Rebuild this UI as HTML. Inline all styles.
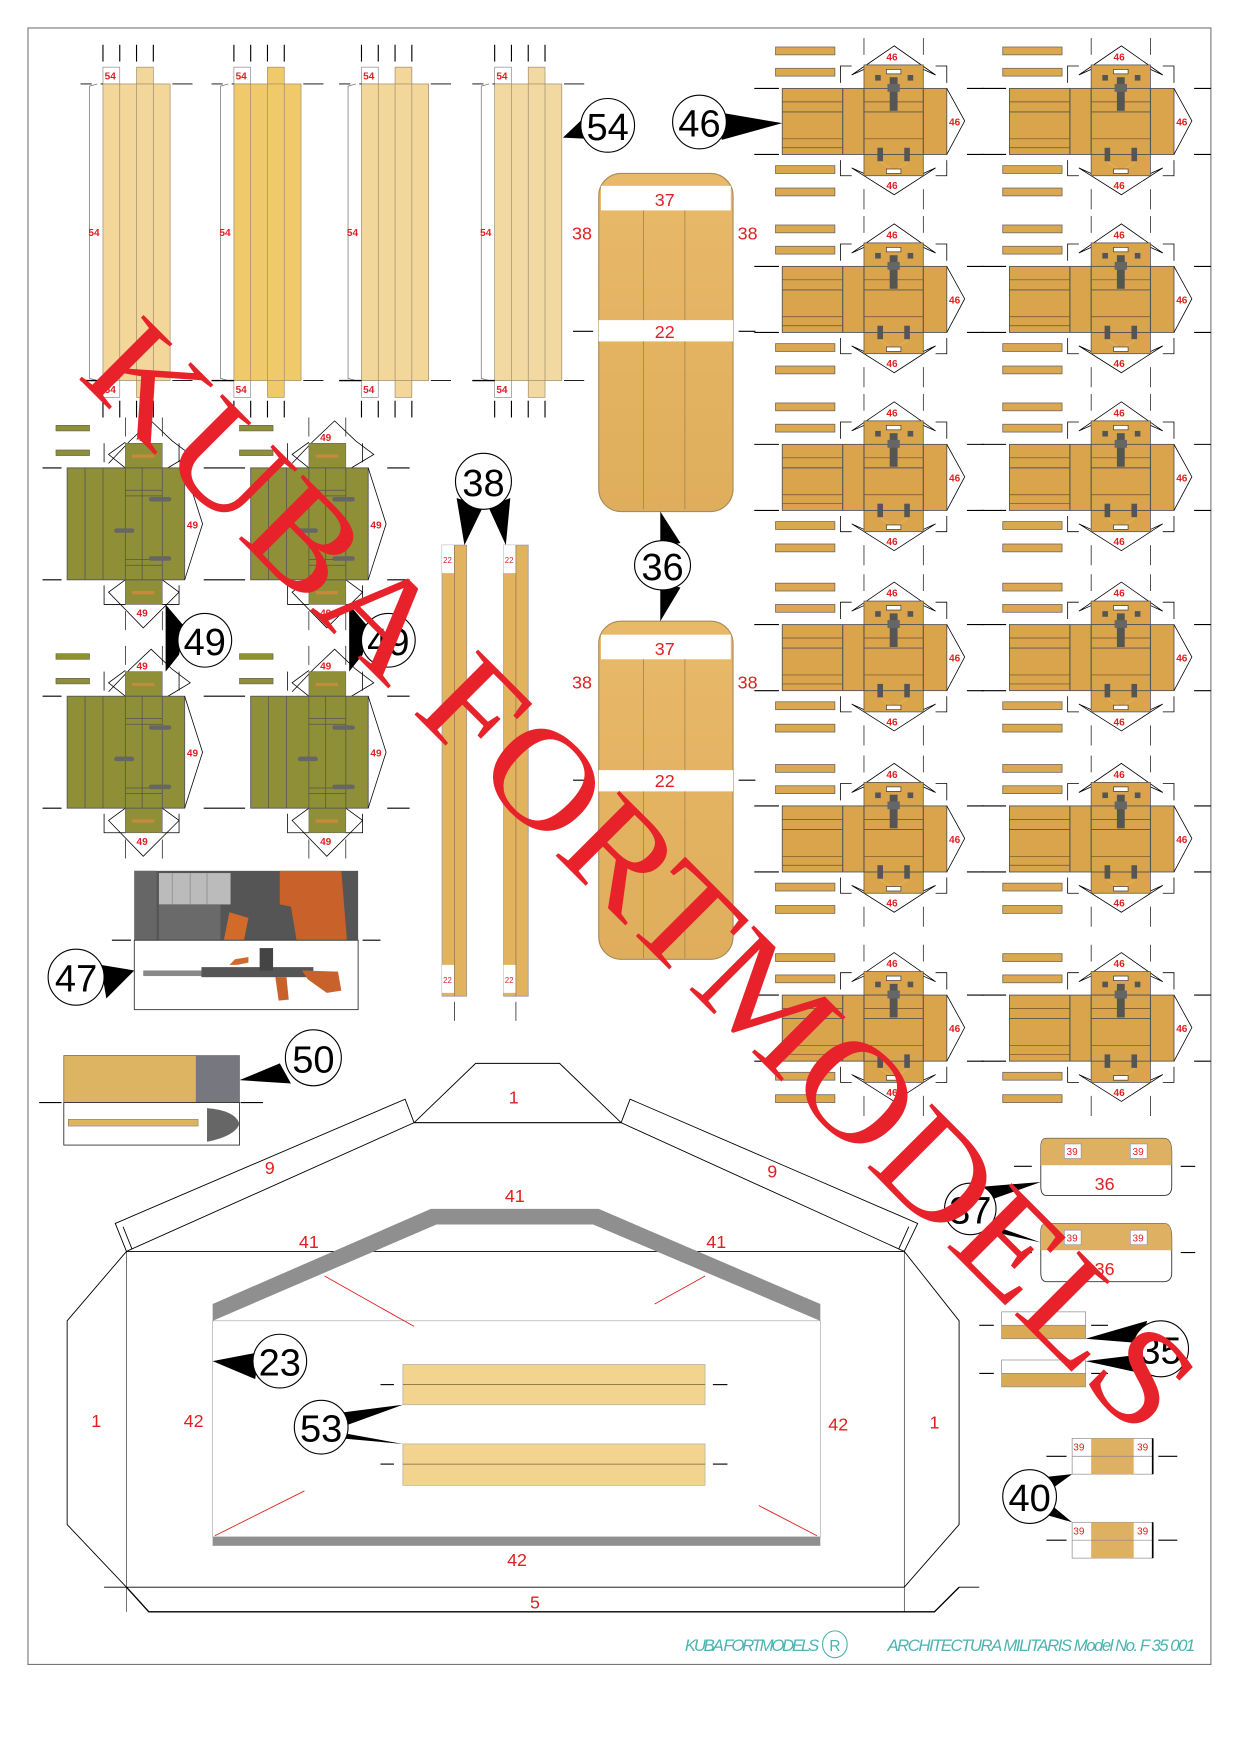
<!DOCTYPE html>
<html><head><meta charset="utf-8"><style>
html,body{margin:0;padding:0;background:#fff}
svg{display:block}
text{font-family:"Liberation Sans",sans-serif}
text.wm{font-family:"Liberation Serif",serif}
</style></head><body>
<svg width="1240" height="1754" viewBox="0 0 1108 1567" preserveAspectRatio="none" xmlns="http://www.w3.org/2000/svg">
<defs>
<linearGradient id="wood" x1="0" y1="0" x2="0" y2="1"><stop offset="0" stop-color="#e8b969"/><stop offset="1" stop-color="#dfae5c"/></linearGradient>
<g id="strip">
  <line x1="0" y1="40" x2="0" y2="55" stroke="#000"/><line x1="15" y1="40" x2="15" y2="55" stroke="#000"/><line x1="30" y1="40" x2="30" y2="55" stroke="#000"/><line x1="45" y1="40" x2="45" y2="55" stroke="#000"/>
  <line x1="0" y1="358" x2="0" y2="373" stroke="#000"/><line x1="15" y1="358" x2="15" y2="373" stroke="#000"/><line x1="30" y1="358" x2="30" y2="373" stroke="#000"/><line x1="45" y1="358" x2="45" y2="373" stroke="#000"/>
  <rect x="0" y="60" width="15" height="15" fill="#fff" stroke="#888" stroke-width=".6"/>
  <rect x="0" y="340" width="15" height="15" fill="#fff" stroke="#888" stroke-width=".6"/>
  <rect x="30" y="60" width="15" height="295" fill="currentColor" stroke="#9a8a6a" stroke-width=".6"/>
  <rect x="0" y="75" width="60" height="265" fill="currentColor" stroke="#9a8a6a" stroke-width=".6"/>
  <line x1="15" y1="75" x2="15" y2="340" stroke="#9a8a6a" stroke-width=".6"/><line x1="30" y1="75" x2="30" y2="340" stroke="#9a8a6a" stroke-width=".6"/><line x1="45" y1="75" x2="45" y2="340" stroke="#9a8a6a" stroke-width=".6"/>
  <polyline points="-5,75 -12,77 -12,338 -5,340" fill="none" stroke="#666" stroke-width=".6"/>
  <line x1="-20" y1="75" x2="0" y2="75" stroke="#000" stroke-dasharray="10,8" stroke-width=".8"/><line x1="62" y1="75" x2="80" y2="75" stroke="#000" stroke-width=".8"/>
  <line x1="-20" y1="340" x2="0" y2="340" stroke="#000" stroke-width="1.2"/><line x1="62" y1="340" x2="80" y2="340" stroke="#000" stroke-width=".8"/>
  <text x="1.5" y="71" font-size="9" font-weight="bold" fill="#e02020">54</text>
  <text x="1.5" y="351" font-size="9" font-weight="bold" fill="#e02020">54</text>
  <text x="-13" y="211" font-size="9" font-weight="bold" fill="#e02020">54</text>
</g>
<g id="door">
  <polyline points="37,-4 56,-24 75,-42 94,-24 110,-12 90,0" fill="none" stroke="#000" stroke-width=".7"/>
  <polyline points="52,0 37,-12 52,-23" fill="none" stroke="#000" stroke-width=".7"/>
  <polyline points="33,-22 33,-5" fill="none" stroke="#000" stroke-width=".7"/><polyline points="100,-22 100,-5" fill="none" stroke="#000" stroke-width=".7"/>
  <rect x="52" y="-22" width="33" height="22" fill="#8e8f36" stroke="#666" stroke-width=".5"/>
  <rect x="52" y="100" width="33" height="22" fill="#8e8f36" stroke="#666" stroke-width=".5"/>
  <polyline points="52,100 37,111 68,143 100,111 85,100" fill="none" stroke="#000" stroke-width=".7"/>
  <polyline points="33,105 33,122 52,122" fill="none" stroke="#000" stroke-width=".7"/><polyline points="100,105 100,122 85,122" fill="none" stroke="#000" stroke-width=".7"/>
  <line x1="52" y1="-45" x2="52" y2="-28" stroke="#000" stroke-width=".6"/><line x1="85" y1="-45" x2="85" y2="-28" stroke="#000" stroke-width=".6"/>
  <line x1="52" y1="128" x2="52" y2="145" stroke="#000" stroke-width=".6"/><line x1="85" y1="128" x2="85" y2="145" stroke="#000" stroke-width=".6"/>
  <rect x="0" y="0" width="105" height="100" fill="#8e8f36" stroke="#555" stroke-width=".8"/>
  <line x1="16" y1="0" x2="16" y2="100" stroke="#555" stroke-width=".7"/><line x1="32" y1="0" x2="32" y2="100" stroke="#555" stroke-width=".7"/>
  <line x1="52" y1="0" x2="52" y2="100" stroke="#555" stroke-width=".7"/><line x1="67" y1="0" x2="67" y2="100" stroke="#555" stroke-width=".7"/><line x1="85" y1="0" x2="85" y2="100" stroke="#555" stroke-width=".7"/>
  <line x1="52" y1="20" x2="85" y2="20" stroke="#555" stroke-width=".7"/><line x1="52" y1="25" x2="85" y2="25" stroke="#555" stroke-width=".7"/>
  <line x1="52" y1="82" x2="85" y2="82" stroke="#555" stroke-width=".7"/><line x1="52" y1="87" x2="85" y2="87" stroke="#555" stroke-width=".7"/>
  <rect x="73" y="26" width="20" height="4" rx="2" fill="#666"/><rect x="73" y="79" width="20" height="4" rx="2" fill="#666"/><rect x="42" y="54" width="18" height="4" rx="2" fill="#666"/>
  <rect x="58" y="-12" width="20" height="3" fill="#c58a3a"/><rect x="58" y="110" width="20" height="3" fill="#c58a3a"/>
  <polyline points="105,0 121,50 105,100" fill="none" stroke="#000" stroke-width=".7"/>
  <line x1="-22" y1="0" x2="-5" y2="0" stroke="#000"/><line x1="122" y1="0" x2="142" y2="0" stroke="#000"/>
  <line x1="-22" y1="100" x2="-5" y2="100" stroke="#000"/><line x1="122" y1="100" x2="142" y2="100" stroke="#000"/>
  <rect x="-10" y="-38" width="30" height="5" fill="#8e8f36" stroke="#555" stroke-width=".5"/>
  <rect x="-10" y="-16" width="30" height="5" fill="#8e8f36" stroke="#555" stroke-width=".5"/>
  <text x="62" y="-24" font-size="9" font-weight="bold" fill="#e02020">49</text>
  <text x="62" y="133" font-size="9" font-weight="bold" fill="#e02020">49</text>
  <text x="107" y="54" font-size="9" font-weight="bold" fill="#e02020">49</text>
</g>
<g id="box">
  <rect x="-6" y="-37" width="53" height="7" fill="#dba84f" stroke="#666" stroke-width=".7"/>
  <rect x="-6" y="-18" width="53" height="7" fill="#dba84f" stroke="#666" stroke-width=".7"/>
  <rect x="-6" y="69" width="53" height="7" fill="#dba84f" stroke="#666" stroke-width=".7"/>
  <rect x="-6" y="89" width="53" height="7" fill="#dba84f" stroke="#666" stroke-width=".7"/>
  <polyline points="73,-17 62,-12 100,-38 137,-12 126,-17" fill="none" stroke="#000" stroke-width=".7"/>
  <polyline points="73,76 62,71 100,95 137,71 126,76" fill="none" stroke="#000" stroke-width=".7"/>
  <polyline points="73,-45 73,-30" stroke="#000" stroke-width=".6"/><polyline points="126,-45 126,-30" stroke="#000" stroke-width=".6"/>
  <polyline points="73,90 73,108" stroke="#000" stroke-width=".6"/><polyline points="126,90 126,108" stroke="#000" stroke-width=".6"/>
  <polyline points="52,-5 52,-20 62,-20" fill="none" stroke="#000" stroke-width=".7"/><polyline points="147,-5 147,-20 137,-20" fill="none" stroke="#000" stroke-width=".7"/>
  <polyline points="52,64 52,78 62,78" fill="none" stroke="#000" stroke-width=".7"/><polyline points="147,64 147,78 137,78" fill="none" stroke="#000" stroke-width=".7"/>
  <rect x="73" y="-21" width="53" height="21" fill="#d9a44c" stroke="#555" stroke-width=".7"/>
  <rect x="73" y="59" width="53" height="19" fill="#d9a44c" stroke="#555" stroke-width=".7"/>
  <rect x="0" y="0" width="147" height="59" fill="#d9a44c" stroke="#555" stroke-width=".8"/>
  <line x1="54" y1="0" x2="54" y2="59" stroke="#555"/><line x1="73" y1="0" x2="73" y2="59" stroke="#555"/><line x1="126" y1="0" x2="126" y2="59" stroke="#555"/>
  <line x1="0" y1="12" x2="54" y2="12" stroke="#6b5030" stroke-width=".6"/><line x1="0" y1="21" x2="54" y2="21" stroke="#555" stroke-width=".8"/>
  <line x1="0" y1="45" x2="54" y2="45" stroke="#6b5030" stroke-width=".6"/><line x1="0" y1="53" x2="54" y2="53" stroke="#6b5030" stroke-width=".6"/>
  <line x1="73" y1="12" x2="126" y2="12" stroke="#6b5030" stroke-width=".6"/><line x1="73" y1="21" x2="126" y2="21" stroke="#555" stroke-width=".8"/><line x1="73" y1="45" x2="126" y2="45" stroke="#6b5030" stroke-width=".6"/>
  <rect x="96" y="-10" width="7" height="30" fill="#555"/><rect x="94" y="-4" width="11" height="7" fill="#666"/>
  <rect x="83" y="-12" width="5" height="5" fill="#555"/><rect x="112" y="-12" width="5" height="5" fill="#555"/>
  <rect x="93" y="-17" width="13" height="4" fill="#fff" stroke="#333" stroke-width=".6"/>
  <rect x="85" y="53" width="5" height="12" fill="#555"/><rect x="109" y="53" width="5" height="12" fill="#555"/>
  <polyline points="88,66 100,74 112,66" fill="none" stroke="#e0b050" stroke-width="1.5"/>
  <rect x="93" y="72" width="13" height="4" fill="#fff" stroke="#333" stroke-width=".6"/>
  <polyline points="147,0 163,29 147,59" fill="none" stroke="#000" stroke-width=".7"/>
  <line x1="-25" y1="0" x2="-3" y2="0" stroke="#000"/><line x1="165" y1="0" x2="180" y2="0" stroke="#000"/>
  <line x1="-25" y1="59" x2="-3" y2="59" stroke="#000"/><line x1="165" y1="59" x2="180" y2="59" stroke="#000"/>
  <text x="93" y="-25" font-size="9" font-weight="bold" fill="#e02020">46</text>
  <text x="93" y="90" font-size="9" font-weight="bold" fill="#e02020">46</text>
  <text x="149" y="33" font-size="9" font-weight="bold" fill="#e02020">46</text>
</g>
</defs>

<rect x="25" y="25" width="1057" height="1462" fill="none" stroke="#777" stroke-width="1"/>

<use href="#strip" x="92" y="0" color="#f2d69a"/>
<use href="#strip" x="209" y="0" color="#f0c96a"/>
<use href="#strip" x="323" y="0" color="#f2d69a"/>
<use href="#strip" x="442" y="0" color="#f2d9a2"/>
<path d="M503,123 L523,104 L524,124 Z" fill="#000"/>
<circle cx="543" cy="112" r="24" fill="#fff" stroke="#000"/>
<text x="543" y="125" font-size="34" text-anchor="middle">54</text>

<g stroke="#a88a5a" stroke-width="1">
<rect x="535" y="155" width="120" height="302" rx="20" fill="url(#wood)"/>
<rect x="535" y="555" width="120" height="302" rx="20" fill="url(#wood)"/>
</g>
<rect x="537" y="166" width="116" height="22" fill="#fff"/>
<rect x="535" y="286" width="120" height="19" fill="#fff"/>
<rect x="537" y="567" width="116" height="22" fill="#fff"/>
<rect x="535" y="688" width="120" height="19" fill="#fff"/>
<g stroke="#a08050" stroke-width=".7">
<line x1="575" y1="188" x2="575" y2="286"/><line x1="612" y1="188" x2="612" y2="286"/>
<line x1="575" y1="305" x2="575" y2="455"/><line x1="612" y1="305" x2="612" y2="455"/>
<line x1="575" y1="589" x2="575" y2="688"/><line x1="612" y1="589" x2="612" y2="688"/>
<line x1="575" y1="707" x2="575" y2="856"/><line x1="612" y1="707" x2="612" y2="856"/>
</g>
<g fill="#e02020" font-size="16" text-anchor="middle">
<text x="594" y="184">37</text><text x="594" y="302">22</text><text x="520" y="214">38</text><text x="668" y="214">38</text>
<text x="594" y="585">37</text><text x="594" y="703">22</text><text x="520" y="615">38</text><text x="668" y="615">38</text>
</g>
<line x1="512" y1="296" x2="530" y2="296" stroke="#000"/><line x1="660" y1="296" x2="675" y2="296" stroke="#000"/>
<line x1="512" y1="697" x2="530" y2="697" stroke="#000"/><line x1="660" y1="697" x2="675" y2="697" stroke="#000"/>
<path d="M590,457 L608,485 L590,490 Z M590,555 L608,525 L590,520 Z" fill="#000"/>
<ellipse cx="592" cy="505" rx="25" ry="22" fill="#fff" stroke="#000"/>
<text x="592" y="518" font-size="34" text-anchor="middle">36</text>

<rect x="395" y="487" width="22" height="403" fill="#e2b35e" stroke="#999" stroke-width=".7"/>
<rect x="450" y="487" width="22" height="403" fill="#e2b35e" stroke="#999" stroke-width=".7"/>
<rect x="395" y="487" width="11" height="25" fill="#fff"/><rect x="450" y="487" width="11" height="25" fill="#fff"/>
<rect x="395" y="862" width="11" height="25" fill="#fff"/><rect x="450" y="862" width="11" height="25" fill="#fff"/>
<line x1="406" y1="487" x2="406" y2="890" stroke="#8a7050" stroke-width=".6"/><line x1="461" y1="487" x2="461" y2="890" stroke="#8a7050" stroke-width=".6"/>
<g fill="#e02020" font-size="7"><text x="396" y="503">22</text><text x="451" y="503">22</text><text x="396" y="878">22</text><text x="451" y="878">22</text></g>
<line x1="406" y1="895" x2="406" y2="912" stroke="#000" stroke-width=".6"/><line x1="461" y1="895" x2="461" y2="912" stroke="#000" stroke-width=".6"/>
<path d="M408,445 L415,487 L432,452 Z M456,445 L452,487 L436,452 Z" fill="#000"/>
<circle cx="432" cy="430" r="25" fill="#fff" stroke="#000"/>
<text x="432" y="443" font-size="34" text-anchor="middle">38</text>

<use href="#door" x="60" y="418"/>
<use href="#door" x="224" y="418"/>
<use href="#door" x="60" y="622"/>
<use href="#door" x="224" y="622"/>
<path d="M148,540 L165,560 L160,585 L148,600 Z M312,540 L329,560 L324,585 L312,600 Z" fill="#000"/>
<circle cx="183" cy="572" r="24" fill="#fff" stroke="#000"/><text x="183" y="585" font-size="34" text-anchor="middle">49</text>
<circle cx="347" cy="572" r="24" fill="#fff" stroke="#000"/><text x="347" y="585" font-size="34" text-anchor="middle">49</text>

<rect x="120" y="778" width="200" height="62" fill="#555"/>
<rect x="120" y="778" width="20" height="62" fill="#666"/>
<rect x="142" y="780" width="64" height="28" fill="#bbb"/>
<line x1="154" y1="780" x2="154" y2="808" stroke="#999"/><line x1="170" y1="780" x2="170" y2="808" stroke="#999"/><line x1="185" y1="780" x2="185" y2="808" stroke="#999"/>
<rect x="142" y="808" width="55" height="32" fill="#6a6a6a"/>
<polygon points="250,778 305,778 310,840 265,840 260,810 250,808" fill="#c9622a"/>
<polygon points="205,815 222,820 218,840 200,840" fill="#d26a2a"/>
<rect x="120" y="840" width="200" height="62" fill="#fff" stroke="#333" stroke-width=".8"/>
<line x1="100" y1="840" x2="117" y2="840" stroke="#000"/><line x1="324" y1="840" x2="340" y2="840" stroke="#000"/>
<rect x="128" y="867" width="55" height="5" fill="#888"/>
<rect x="180" y="864" width="100" height="9" fill="#555"/>
<rect x="232" y="847" width="12" height="20" fill="#444"/>
<polygon points="205,862 210,857 222,855 222,860 212,862" fill="#d06a2a"/>
<polygon points="270,867 302,868 305,885 292,887 275,875" fill="#c9622a"/>
<polygon points="246,873 256,873 258,893 249,894" fill="#c9622a"/>
<path d="M90,862 L120,867 L95,892 Z" fill="#000"/>
<circle cx="68" cy="873" r="25" fill="#fff" stroke="#000"/><text x="68" y="886" font-size="34" text-anchor="middle">47</text>

<rect x="57" y="943" width="157" height="42" fill="#ddb462" stroke="#555" stroke-width=".6"/>
<rect x="175" y="943" width="39" height="42" fill="#77787f"/>
<rect x="57" y="985" width="157" height="38" fill="#fff" stroke="#333" stroke-width=".8"/>
<line x1="35" y1="985" x2="55" y2="985" stroke="#000"/><line x1="215" y1="985" x2="235" y2="985" stroke="#000"/>
<rect x="61" y="1000" width="116" height="6" fill="#ddb462" stroke="#777" stroke-width=".5"/>
<path d="M185,990 Q210,992 214,1004 Q210,1015 185,1020 Z" fill="#666"/>
<path d="M214,965 L250,950 L260,968 Z" fill="#000"/>
<circle cx="280" cy="945" r="25" fill="#fff" stroke="#000"/><text x="280" y="958" font-size="34" text-anchor="middle">50</text>

<use href="#box" x="699" y="79"/><use href="#box" x="902" y="79"/>
<use href="#box" x="699" y="238"/><use href="#box" x="902" y="238"/>
<use href="#box" x="699" y="397"/><use href="#box" x="902" y="397"/>
<use href="#box" x="699" y="558"/><use href="#box" x="902" y="558"/>
<use href="#box" x="699" y="720"/><use href="#box" x="902" y="720"/>
<use href="#box" x="699" y="889"/><use href="#box" x="902" y="889"/>
<path d="M640,100 L699,110 L645,125 Z" fill="#000"/>
<circle cx="625" cy="109" r="24" fill="#fff" stroke="#000"/><text x="625" y="122" font-size="34" text-anchor="middle">46</text>

<g fill="none" stroke="#000" stroke-width=".8">
<polygon points="113,1118 60,1180 60,1362 113,1418 808,1418 857,1362 857,1180 808,1118"/>
<polygon points="370,1003 425,950 500,950 555,1003"/>
<polygon points="103,1093 362,982 370,1003 113,1118"/>
<polygon points="555,1003 563,982 820,1093 808,1118"/>
<line x1="113" y1="1118" x2="113" y2="1440" stroke-width=".5"/><line x1="808" y1="1118" x2="808" y2="1440" stroke-width=".5"/>
<line x1="110" y1="1096" x2="118" y2="1116"/><line x1="812" y1="1096" x2="803" y2="1116"/>
<polyline points="113,1418 133,1440 835,1440 857,1418" stroke-width="1.2"/>
<line x1="93" y1="1418" x2="113" y2="1418"/><line x1="857" y1="1418" x2="875" y2="1418"/>
<line x1="370" y1="1003" x2="555" y2="1003"/>
</g>
<polygon points="190,1165 385,1080 535,1080 733,1165 733,1180 530,1094 390,1094 190,1180" fill="#8f8f8f"/>
<rect x="190" y="1180" width="543" height="193" fill="#fff" stroke="#999" stroke-width=".5"/>
<rect x="190" y="1373" width="543" height="8" fill="#8f8f8f"/>
<g stroke="#e02020" stroke-width=".8"><line x1="290" y1="1140" x2="370" y2="1185"/><line x1="630" y1="1140" x2="585" y2="1165"/><line x1="192" y1="1372" x2="272" y2="1332"/><line x1="730" y1="1372" x2="678" y2="1345"/></g>
<g fill="#e02020" font-size="16" text-anchor="middle">
<text x="459" y="986">1</text><text x="241" y="1049">9</text><text x="690" y="1052">9</text>
<text x="460" y="1074">41</text><text x="276" y="1115">41</text><text x="640" y="1115">41</text>
<text x="86" y="1275">1</text><text x="173" y="1275">42</text><text x="749" y="1278">42</text><text x="835" y="1276">1</text>
<text x="462" y="1399">42</text><text x="478" y="1437">5</text>
</g>
<rect x="360" y="1219" width="270" height="36" fill="#f3d48e" stroke="#aaa" stroke-width=".6"/><line x1="360" y1="1237" x2="630" y2="1237" stroke="#7a6040" stroke-width=".7"/>
<rect x="360" y="1290" width="270" height="37" fill="#f3d48e" stroke="#aaa" stroke-width=".6"/><line x1="360" y1="1308" x2="630" y2="1308" stroke="#7a6040" stroke-width=".7"/>
<g stroke="#000"><line x1="340" y1="1237" x2="352" y2="1237"/><line x1="637" y1="1237" x2="650" y2="1237"/><line x1="340" y1="1308" x2="352" y2="1308"/><line x1="637" y1="1308" x2="650" y2="1308"/></g>
<path d="M190,1216 L232,1208 L228,1232 Z" fill="#000"/>
<circle cx="250" cy="1216" r="24" fill="#fff" stroke="#000"/><text x="250" y="1229" font-size="34" text-anchor="middle">23</text>
<path d="M305,1262 L360,1255 L305,1275 Z M305,1280 L360,1290 L305,1285 Z" fill="#000"/>
<circle cx="287" cy="1275" r="24" fill="#fff" stroke="#000"/><text x="287" y="1288" font-size="34" text-anchor="middle">53</text>

<g stroke="#333" stroke-width=".8">
<path d="M935,1017 L1040,1017 Q1047,1017 1047,1030 L1047,1060 Q1047,1068 1040,1068 L935,1068 Q930,1068 930,1060 L930,1025 Q930,1017 935,1017 Z" fill="#fff"/>
<path d="M935,1093 L1040,1093 Q1047,1093 1047,1106 L1047,1137 Q1047,1145 1040,1145 L935,1145 Q930,1145 930,1137 L930,1101 Q930,1093 935,1093 Z" fill="#fff"/>
</g>
<path d="M935,1017 L1040,1017 Q1047,1017 1047,1030 L1047,1041 L930,1041 L930,1025 Q930,1017 935,1017 Z" fill="#ddb062"/>
<path d="M935,1093 L1040,1093 Q1047,1093 1047,1106 L1047,1117 L930,1117 L930,1101 Q930,1093 935,1093 Z" fill="#ddb062"/>
<g fill="#fff" stroke="#888" stroke-width=".5"><rect x="951" y="1022" width="15" height="13"/><rect x="1010" y="1022" width="15" height="13"/><rect x="951" y="1099" width="15" height="13"/><rect x="1010" y="1099" width="15" height="13"/></g>
<g fill="#e02020" font-size="9"><text x="953" y="1032">39</text><text x="1012" y="1032">39</text><text x="953" y="1109">39</text><text x="1012" y="1109">39</text></g>
<g fill="#e02020" font-size="16" text-anchor="middle"><text x="987" y="1063">36</text><text x="987" y="1139">36</text></g>
<g stroke="#000"><line x1="906" y1="1042" x2="922" y2="1042"/><line x1="1055" y1="1042" x2="1068" y2="1042"/><line x1="906" y1="1119" x2="922" y2="1119"/><line x1="1055" y1="1119" x2="1068" y2="1119"/></g>
<path d="M880,1060 L930,1056 L885,1072 Z M880,1092 L930,1110 L885,1100 Z" fill="#000"/>
<circle cx="867" cy="1080" r="23" fill="#fff" stroke="#000"/><text x="867" y="1093" font-size="34" text-anchor="middle">37</text>

<rect x="895" y="1172" width="75" height="12" fill="#fff" stroke="#888" stroke-width=".6"/><rect x="895" y="1184" width="75" height="12" fill="#d9a955" stroke="#888" stroke-width=".6"/>
<rect x="895" y="1215" width="75" height="12" fill="#fff" stroke="#888" stroke-width=".6"/><rect x="895" y="1227" width="75" height="12" fill="#d9a955" stroke="#888" stroke-width=".6"/>
<text x="924" y="1182" fill="#e02020" font-size="9">19</text>
<g stroke="#000"><line x1="875" y1="1184" x2="888" y2="1184"/><line x1="975" y1="1184" x2="990" y2="1184"/><line x1="875" y1="1227" x2="888" y2="1227"/><line x1="975" y1="1227" x2="990" y2="1227"/></g>
<path d="M970,1196 L1025,1180 L1020,1200 Z M970,1216 L1020,1210 L1025,1228 Z" fill="#000"/>
<circle cx="1037" cy="1205" r="25" fill="#fff" stroke="#000"/><text x="1037" y="1218" font-size="34" text-anchor="middle">35</text>

<rect x="958" y="1285" width="72" height="32" fill="#fff" stroke="#888" stroke-width=".6"/><rect x="975" y="1285" width="38" height="32" fill="#ddb062"/>
<rect x="958" y="1360" width="72" height="32" fill="#fff" stroke="#888" stroke-width=".6"/><rect x="975" y="1360" width="38" height="32" fill="#ddb062"/>
<line x1="958" y1="1301" x2="1030" y2="1301" stroke="#888" stroke-width=".6"/><line x1="958" y1="1376" x2="1030" y2="1376" stroke="#888" stroke-width=".6"/>
<line x1="1030" y1="1285" x2="1030" y2="1317" stroke="#000" stroke-width="1.5"/><line x1="1030" y1="1360" x2="1030" y2="1392" stroke="#000" stroke-width="1.5"/>
<g fill="#e02020" font-size="9"><text x="959" y="1296">39</text><text x="1016" y="1296">39</text><text x="959" y="1371">39</text><text x="1016" y="1371">39</text></g>
<g stroke="#000"><line x1="935" y1="1301" x2="953" y2="1301"/><line x1="1035" y1="1301" x2="1052" y2="1301"/><line x1="935" y1="1376" x2="953" y2="1376"/><line x1="1035" y1="1376" x2="1052" y2="1376"/></g>
<path d="M930,1320 L958,1317 L940,1330 Z M930,1352 L958,1360 L940,1345 Z" fill="#000"/>
<circle cx="920" cy="1337" r="24" fill="#fff" stroke="#000"/><text x="920" y="1350" font-size="34" text-anchor="middle">40</text>

<text x="612" y="1475" font-size="15" font-style="italic" fill="#4cb3b0" textLength="120">KUBA FORTMODELS</text>
<ellipse cx="746" cy="1469" rx="11" ry="12" fill="none" stroke="#4cb3b0"/>
<text x="746" y="1475" font-size="14" fill="#4cb3b0" text-anchor="middle">R</text>
<text x="793" y="1475" font-size="15" font-style="italic" fill="#4cb3b0" textLength="275">ARCHITECTURA MILITARIS Model No. F 35 001</text>

<text class="wm" x="0" y="0" transform="translate(68,336) rotate(45)" font-size="124" fill="#e8222a" textLength="1345" lengthAdjust="spacingAndGlyphs">KUBA FORTMODELS</text>
</svg>
</body></html>
